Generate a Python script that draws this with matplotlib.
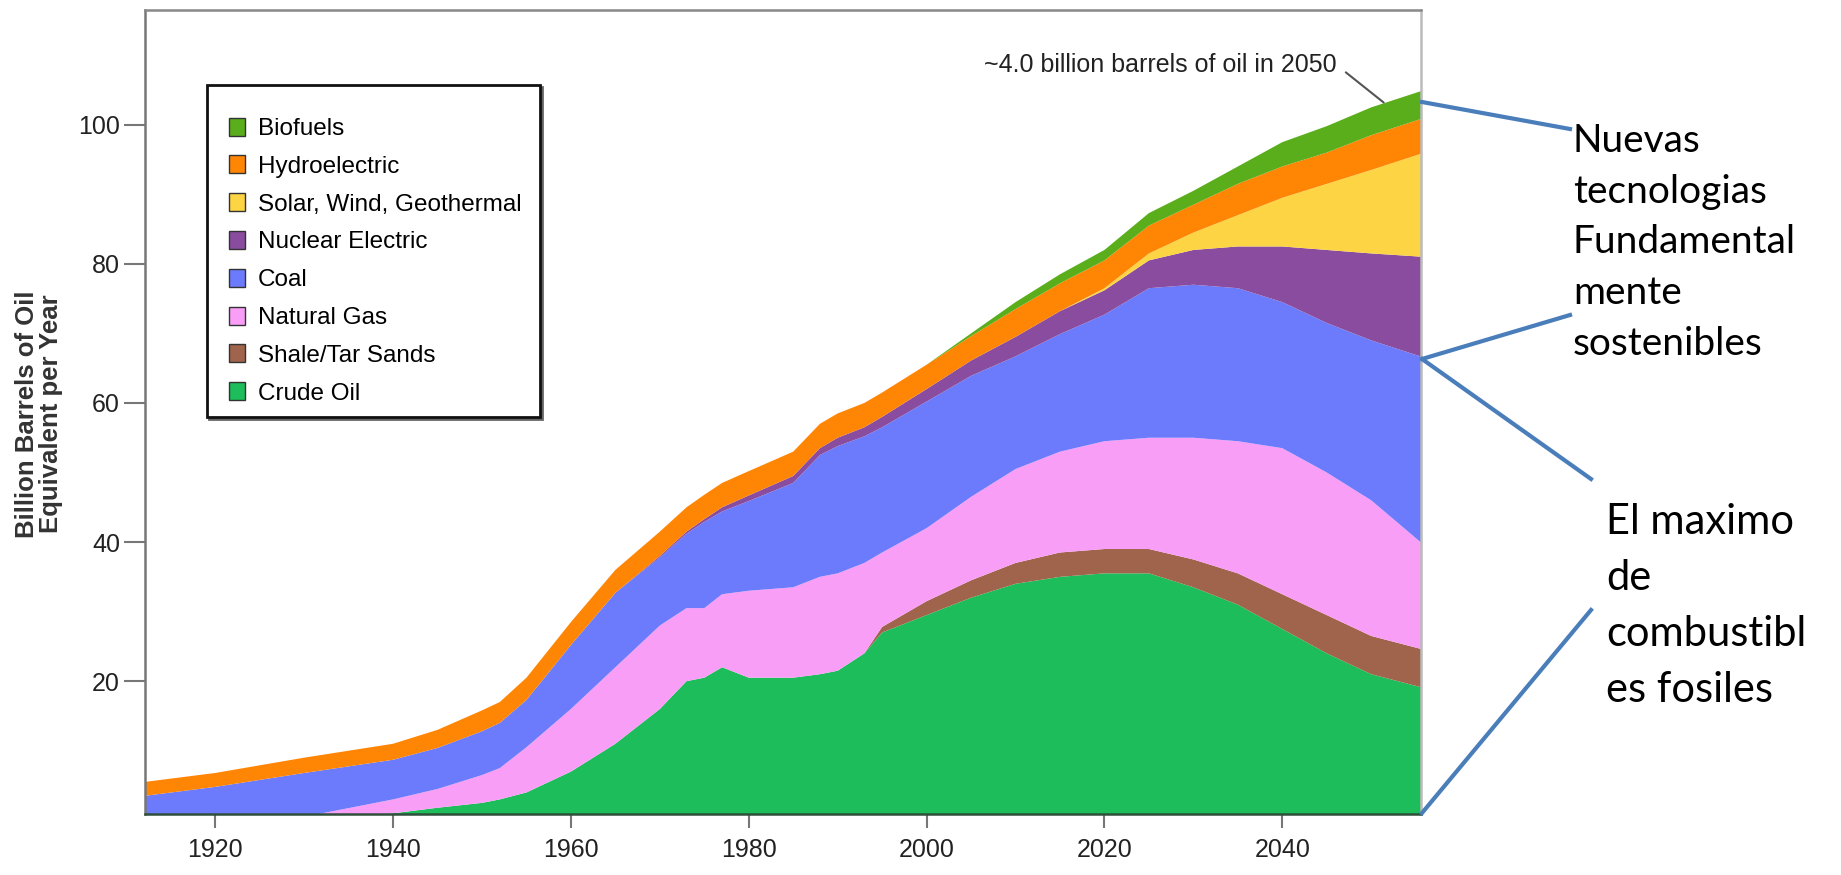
import numpy as np
import matplotlib.pyplot as plt
import matplotlib.transforms as mtransforms
from matplotlib.patches import Patch, Rectangle
from matplotlib.lines import Line2D

plt.rcParams['font.family'] = ['Liberation Sans', 'DejaVu Sans']

# years and layer thickness (billion barrels of oil equivalent per year)
years = [1912, 1920, 1930, 1940, 1945, 1950, 1952, 1955, 1960, 1965, 1970,
         1973, 1975, 1977, 1980, 1985, 1988, 1990, 1993, 1995, 2000, 2005,
         2010, 2015, 2020, 2025, 2030, 2035, 2040, 2045, 2050, 2056]

crude = [0, 0, 0.3, 1, 1.8, 2.5, 3, 4, 7, 11, 16, 20, 20.5, 22, 20.5, 20.5,
         21, 21.5, 24, 27, 29.5, 32, 34, 35, 35.5, 35.5, 33.5, 31, 27.5, 24,
         21, 19]
shale = [0, 0, 0, 0, 0, 0, 0, 0, 0, 0, 0, 0, 0, 0, 0, 0, 0, 0, 0,
         0.8, 2, 2.5, 3, 3.5, 3.5, 3.5, 4, 4.5, 5, 5.5, 5.5, 5.5]
gas = [0, 0, 0.2, 2, 2.7, 4, 4.5, 6.5, 9, 11, 12, 10.5, 10, 10.5, 12.5, 13,
       14, 14, 13, 10.7, 10.5, 12, 13.5, 14.5, 15.5, 16, 17.5, 19, 21, 20.5,
       19.5, 15]
coal = [3.5, 4.8, 6.3, 5.7, 5.9, 6.3, 6.5, 6.8, 9.2, 10.7, 9.8, 10.7, 12.4,
        11.9, 12.9, 15, 17.5, 18.3, 18.2, 18, 18.2, 17.4, 16.2, 16.9, 18.2,
        21.5, 22, 22, 21, 21.5, 23, 27]
nuclear = [0, 0, 0, 0, 0, 0, 0, 0, 0, 0,
           0.2, 0.3, 0.4, 0.6, 0.8, 1, 1, 1.2, 1.3, 1.5, 1.8, 2.2, 2.8, 3.3,
           3.5, 4, 5, 6, 8, 10.5, 12.5, 14.5]
solar = [0, 0, 0, 0, 0, 0, 0, 0, 0, 0, 0, 0, 0, 0, 0, 0, 0, 0, 0, 0, 0, 0,
         0, 0, 0.3, 1, 2.5, 4.5, 7, 9.5, 12, 15]
hydro = [2, 2, 2.2, 2.3, 2.6, 3, 3, 3.2, 3.3, 3.3, 3.5, 3.5, 3.5, 3.5, 3.5,
         3.5, 3.5, 3.5, 3.5, 3.5, 3.5, 3.5, 4, 4, 4, 4, 4, 4.5, 4.5, 4.5, 5, 5]
bio = [0, 0, 0, 0, 0, 0, 0, 0, 0, 0, 0, 0, 0, 0, 0, 0, 0, 0, 0, 0, 0,
       0.4, 1, 1.3, 1.5, 1.8, 2, 2.5, 3.5, 3.8, 4, 4]

labels = ['Crude Oil', 'Shale/Tar Sands', 'Natural Gas', 'Coal',
          'Nuclear Electric', 'Solar, Wind, Geothermal', 'Hydroelectric',
          'Biofuels']
colors = ['#1cbd5a', '#a0634b', '#f99ef7', '#6b7bfc', '#8a4c9f',
          '#fdd544', '#ff8505', '#5aae1b']

xticks = [1920, 1940, 1960, 1980, 2000, 2020, 2040]
yticks = [20, 40, 60, 80, 100]

note_top = ['Nuevas', 'tecnologias', 'Fundamental', 'mente', 'sostenibles']
note_bottom = ['El maximo', 'de', 'combustibl', 'es fosiles']

W, H = 1841, 875
fig = plt.figure(figsize=(W / 100, H / 100), dpi=100)
ax = fig.add_axes([145 / W, 1 - 814 / H, (1421 - 145) / W, (814 - 10) / H])

ax.stackplot(years, crude, shale, gas, coal, nuclear, solar, hydro, bio,
             colors=colors, linewidth=0)

ax.set_xlim(1912.1, 2055.6)
ax.set_ylim(0.9, 116.5)
ax.set_xticks(xticks)
ax.set_yticks(yticks)
ax.tick_params(axis='y', direction='out', length=15, width=1.5,
               color='#777777', pad=3, labelsize=18, labelcolor='#222222')
ax.tick_params(axis='x', direction='out', length=10, width=1.5,
               color='#777777', pad=7, labelsize=18, labelcolor='#222222')
for side, col in [('left', '#777777'), ('top', '#888888'),
                  ('right', '#bbbbbb'), ('bottom', '#2f4f3a')]:
    ax.spines[side].set_color(col)
    ax.spines[side].set_linewidth(1.8)
ax.spines['bottom'].set_zorder(3)

fig.text(39 / W, 1 - 414 / H, 'Billion Barrels of Oil\nEquivalent per Year',
         rotation=90, ha='center', va='center', fontsize=18.5,
         fontweight='bold', color='#333333', linespacing=1.05)

# legend box with a slight drop shadow
box = dict(xy=(0.0486, 0.4938), width=0.2610, height=0.4129,
           linewidth=2, zorder=4)
shadow_tr = mtransforms.offset_copy(ax.transAxes, fig=fig, x=2, y=-2,
                                    units='dots')
ax.add_patch(Rectangle(transform=shadow_tr, facecolor='#666666',
                       edgecolor='#666666', **box))
ax.add_patch(Rectangle(transform=ax.transAxes, facecolor='white',
                       edgecolor='#111111', **box))

handles = [Patch(facecolor=c, edgecolor='#333333', linewidth=1)
           for c in colors[::-1]]
leg = ax.legend(handles, labels[::-1], loc='upper left',
                bbox_to_anchor=(0.0658, 0.866), fontsize=17.5,
                frameon=False, handlelength=0.68, handleheight=0.76,
                handletextpad=0.5, labelspacing=0.63, borderpad=0,
                borderaxespad=0)
leg.set_zorder(5)

ax.annotate('~4.0 billion barrels of oil in 2050', xy=(2051.4, 103.2),
            xytext=(2046.1, 108.6), ha='right', va='center', fontsize=18,
            color='#222222',
            arrowprops=dict(arrowstyle='-', color='#555555', lw=1.5,
                            relpos=(1, 0.5), shrinkA=6, shrinkB=0))

# callout lines and notes on the right
blue = '#4a7ebb'
segments = [((1422, 102), (1570, 129)), ((1422, 359), (1570, 315)),
            ((1422, 359), (1591, 479)), ((1422, 813), (1591, 610))]
for (x0, y0), (x1, y1) in segments:
    fig.add_artist(Line2D([x0 / W, x1 / W], [1 - y0 / H, 1 - y1 / H],
                          transform=fig.transFigure, color=blue, lw=3))

for i, line in enumerate(note_top):
    fig.text(1573 / W, 1 - (141 + i * 50.7) / H, line, ha='left',
             va='center', fontsize=28, family='Lato', color='black')
for i, line in enumerate(note_bottom):
    fig.text(1606 / W, 1 - (522 + i * 56) / H, line, ha='left',
             va='center', fontsize=30, family='Lato', color='black')

fig.savefig('out.png', dpi=100)
